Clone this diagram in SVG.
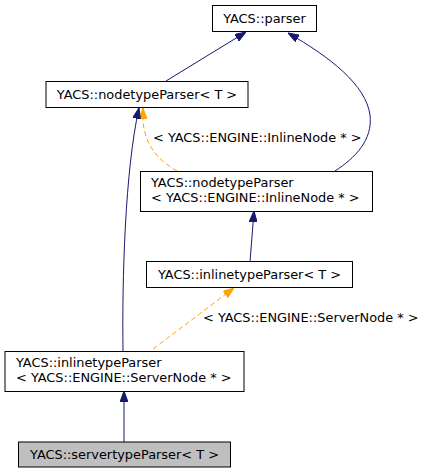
<svg xmlns="http://www.w3.org/2000/svg" width="425" height="473" viewBox="0 0 425 473">
<style>
.n{fill:#ffffff;stroke:#000000;stroke-width:1}
.g{fill:#bfbfbf;stroke:#000000;stroke-width:1}
text{font-family:"DejaVu Sans",sans-serif;font-size:12.9px;fill:#000000}
.e{fill:none;stroke:#191970;stroke-width:1}
.d{fill:none;stroke:#ffa500;stroke-width:1;stroke-dasharray:5,3}
</style>
<defs>
<marker id="an" markerUnits="userSpaceOnUse" markerWidth="11" markerHeight="8" refX="11" refY="4" orient="auto"><path d="M0,0 L11,4 L0,8 z" fill="#191970" stroke="#191970"/></marker>
<marker id="ao" markerUnits="userSpaceOnUse" markerWidth="11" markerHeight="8" refX="11" refY="4" orient="auto"><path d="M0,0 L11,4 L0,8 z" fill="#ffa500" stroke="#ffa500"/></marker>
</defs>
<rect width="425" height="473" fill="#ffffff"/>
<g id="edges">
<path class="e" d="M166,81 L246,32" marker-end="url(#an)"/>
<path class="e" d="M335,171 C355,158 373,140 370,115 C366,85 330,57 288,33" marker-end="url(#an)"/>
<path class="d" d="M177,171 C162,162 146,150 143,122 L143,108" marker-end="url(#ao)"/>
<text x="153" y="142">&lt; YACS::ENGINE::InlineNode * &gt;</text>
<path class="e" d="M123,351 C122,280 125,170 139,108" marker-end="url(#an)"/>
<path class="e" d="M250,262 L254,211" marker-end="url(#an)"/>
<path class="d" d="M153,349 L234,288" marker-end="url(#ao)"/>
<text x="203" y="322">&lt; YACS::ENGINE::ServerNode * &gt;</text>
<path class="e" d="M124,442 L124,391" marker-end="url(#an)"/>
</g>
<g id="parser">
<rect class="n" x="212.5" y="5.5" width="104" height="26"/>
<text x="264.5" y="23" text-anchor="middle">YACS::parser</text>
</g>
<g id="nodetypeParserT">
<rect class="n" x="46" y="81.5" width="202" height="26"/>
<text x="147" y="99" text-anchor="middle">YACS::nodetypeParser&lt; T &gt;</text>
</g>
<g id="nodetypeParserInline">
<rect class="n" x="140.5" y="171.5" width="232" height="40"/>
<text x="151" y="187">YACS::nodetypeParser</text>
<text x="151" y="202">&lt; YACS::ENGINE::InlineNode * &gt;</text>
</g>
<g id="inlinetypeParserT">
<rect class="n" x="146.5" y="261.5" width="206" height="26"/>
<text x="249.5" y="279" text-anchor="middle">YACS::inlinetypeParser&lt; T &gt;</text>
</g>
<g id="inlinetypeParserServer">
<rect class="n" x="5" y="351.5" width="239" height="40"/>
<text x="16" y="367">YACS::inlinetypeParser</text>
<text x="16" y="382">&lt; YACS::ENGINE::ServerNode * &gt;</text>
</g>
<g id="servertypeParserT">
<rect class="g" x="18.5" y="442" width="212" height="25"/>
<text x="124.5" y="459" text-anchor="middle">YACS::servertypeParser&lt; T &gt;</text>
</g>
</svg>
